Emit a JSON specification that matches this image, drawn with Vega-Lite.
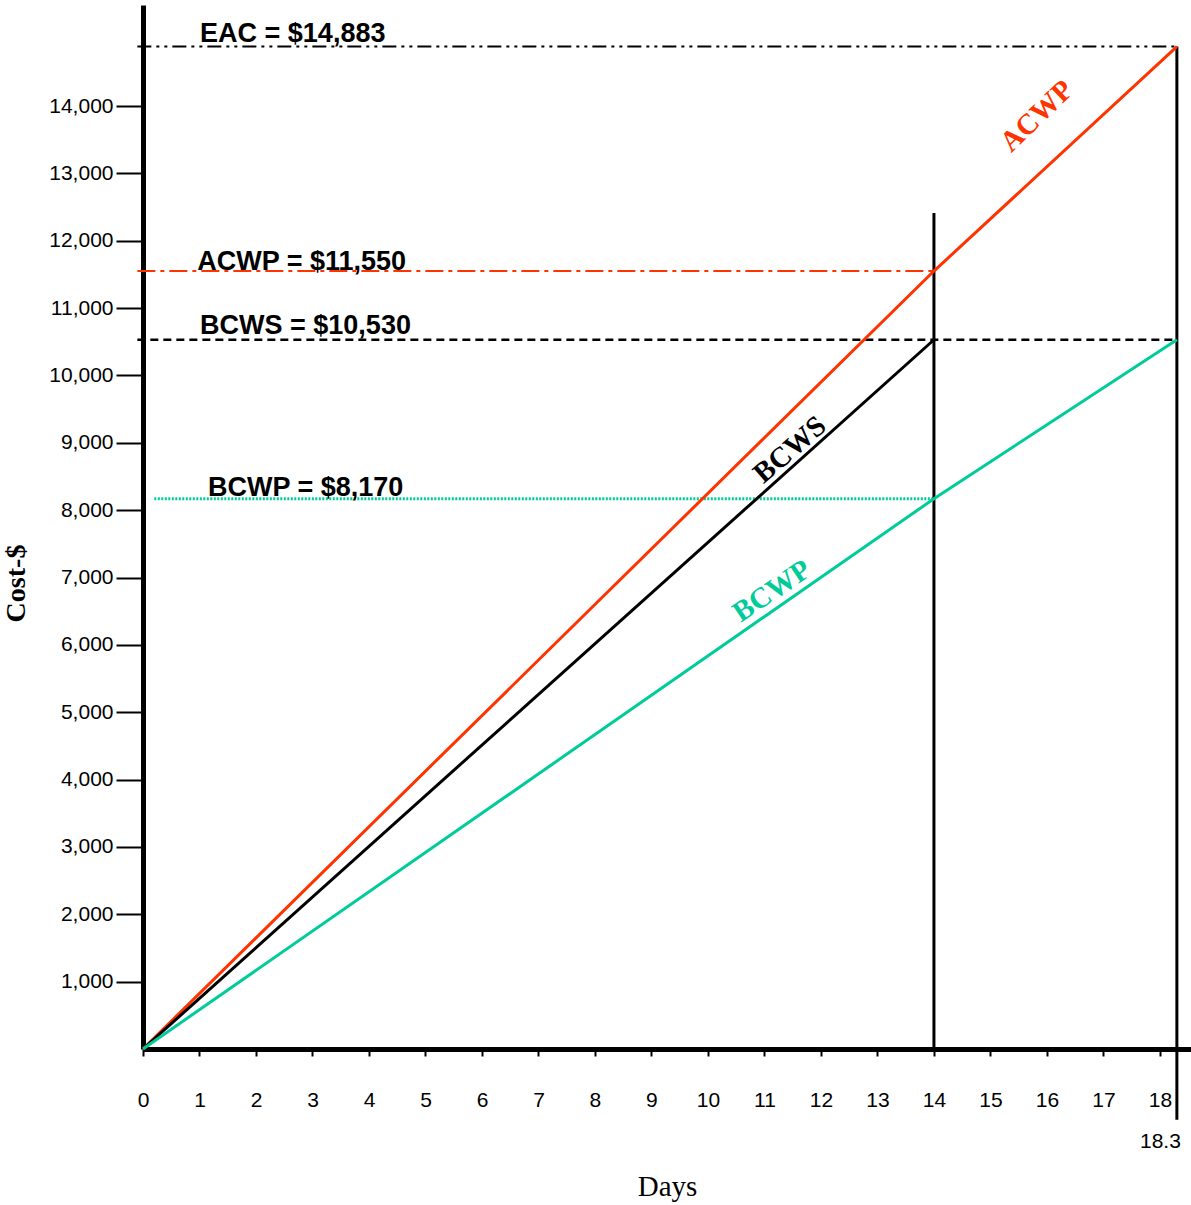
{
  "$schema": "https://vega.github.io/schema/vega-lite/v6.json",
  "width": 1048,
  "height": 1044,
  "autosize": {"type": "none"},
  "padding": {"left": 143, "top": 5, "right": 0, "bottom": 156},
  "background": "white",
  "config": {"view": {"stroke": null}, "font": "Liberation Sans"},
  "datasets": {
    "series": [
      {"series": "ACWP", "day": 0, "cost": 0},
      {"series": "ACWP", "day": 14, "cost": 11550},
      {"series": "ACWP", "day": 18.3, "cost": 14883},
      {"series": "BCWS", "day": 0, "cost": 0},
      {"series": "BCWS", "day": 14, "cost": 10530},
      {"series": "BCWP", "day": 0, "cost": 0},
      {"series": "BCWP", "day": 14, "cost": 8170},
      {"series": "BCWP", "day": 18.3, "cost": 10530}
    ],
    "refs": [
      {"name": "EAC", "day": -0.1, "day2": 18.3, "cost": 14883},
      {"name": "ACWP", "day": -0.1, "day2": 14, "cost": 11550},
      {"name": "BCWS", "day": -0.1, "day2": 18.3, "cost": 10530},
      {"name": "BCWP", "day": 0.2, "day2": 14, "cost": 8170}
    ],
    "verticals": [
      {"day": 14, "cost": 0, "cost2": 12413},
      {"day": 18.3, "cost": -1050, "cost2": 14883}
    ],
    "notes": [
      {"text": "EAC = $14,883", "day": 1.01, "cost": 14958},
      {"text": "ACWP = $11,550", "day": 0.96, "cost": 11560},
      {"text": "BCWS = $10,530", "day": 1.01, "cost": 10620},
      {"text": "BCWP = $8,170", "day": 1.15, "cost": 8215}
    ],
    "tags": [
      {"series": "ACWP", "day": 15.82, "cost": 13853},
      {"series": "BCWS", "day": 11.45, "cost": 8900},
      {"series": "BCWP", "day": 11.13, "cost": 6800}
    ],
    "extra": [
      {"text": "18.3", "day": 18.3, "cost": -1380}
    ]
  },
  "encoding": {
    "x": {
      "field": "day",
      "type": "quantitative",
      "scale": {"domain": [0, 18.55], "nice": false, "zero": false},
      "axis": {
        "values": [0, 1, 2, 3, 4, 5, 6, 7, 8, 9, 10, 11, 12, 13, 14, 15, 16, 17, 18],
        "grid": false,
        "labelFlush": false,
        "domainColor": "black",
        "domainWidth": 5,
        "tickColor": "black",
        "tickWidth": 2,
        "tickSize": 7,
        "labelPadding": 33,
        "labelFont": "Liberation Sans",
        "labelFontSize": 21,
        "labelColor": "black",
        "title": "Days",
        "titleFont": "Liberation Serif",
        "titleFontSize": 29,
        "titleFontWeight": "normal",
        "titleColor": "black",
        "titlePadding": 62
      }
    },
    "y": {
      "field": "cost",
      "type": "quantitative",
      "scale": {"domain": [0, 15500], "nice": false, "zero": false},
      "axis": {
        "values": [1000, 2000, 3000, 4000, 5000, 6000, 7000, 8000, 9000, 10000, 11000, 12000, 13000, 14000],
        "format": ",d",
        "grid": false,
        "domainColor": "black",
        "domainWidth": 5,
        "tickColor": "black",
        "tickWidth": 2,
        "tickSize": 27,
        "labelPadding": 3,
        "labelFont": "Liberation Sans",
        "labelFontSize": 21,
        "labelColor": "black",
        "title": "Cost-$",
        "titleFont": "Liberation Serif",
        "titleFontSize": 28,
        "titleFontWeight": "bold",
        "titleColor": "black",
        "titlePadding": 18,
        "titleY": 578
      }
    }
  },
  "layer": [
    {
      "data": {"name": "refs"},
      "transform": [{"filter": "datum.name === 'EAC'"}],
      "mark": {"type": "rule", "color": "black", "strokeWidth": 2, "strokeDash": [14, 5, 3, 5, 3, 5]},
      "encoding": {"x2": {"field": "day2"}}
    },
    {
      "data": {"name": "refs"},
      "transform": [{"filter": "datum.name === 'ACWP'"}],
      "mark": {"type": "rule", "color": "#ff3300", "strokeWidth": 2, "strokeDash": [18, 5, 4, 5]},
      "encoding": {"x2": {"field": "day2"}}
    },
    {
      "data": {"name": "refs"},
      "transform": [{"filter": "datum.name === 'BCWS'"}],
      "mark": {"type": "rule", "color": "black", "strokeWidth": 2.5, "strokeDash": [8, 5]},
      "encoding": {"x2": {"field": "day2"}}
    },
    {
      "data": {"name": "refs"},
      "transform": [{"filter": "datum.name === 'BCWP'"}],
      "mark": {"type": "rule", "color": "#00cc99", "strokeWidth": 3, "strokeDash": [2, 1.5]},
      "encoding": {"x2": {"field": "day2"}}
    },
    {
      "data": {"name": "verticals"},
      "mark": {"type": "rule", "color": "black", "strokeWidth": 3},
      "encoding": {"y2": {"field": "cost2"}}
    },
    {
      "data": {"name": "series"},
      "mark": {"type": "line", "strokeWidth": 3},
      "encoding": {
        "color": {
          "field": "series",
          "type": "nominal",
          "scale": {"domain": ["ACWP", "BCWS", "BCWP"], "range": ["#ff3300", "#000000", "#00cc99"]},
          "legend": null
        }
      }
    },
    {
      "data": {"name": "notes"},
      "mark": {"type": "text", "font": "Liberation Sans", "fontWeight": "bold", "fontSize": 27, "align": "left", "baseline": "alphabetic", "color": "black"},
      "encoding": {"text": {"field": "text"}}
    },
    {
      "data": {"name": "tags"},
      "transform": [{"filter": "datum.series === 'ACWP'"}],
      "mark": {"type": "text", "font": "Liberation Serif", "fontWeight": "bold", "fontSize": 29, "align": "center", "baseline": "middle", "angle": 316, "color": "#ff3300"},
      "encoding": {"text": {"field": "series"}}
    },
    {
      "data": {"name": "tags"},
      "transform": [{"filter": "datum.series === 'BCWS'"}],
      "mark": {"type": "text", "font": "Liberation Serif", "fontWeight": "bold", "fontSize": 29, "align": "center", "baseline": "middle", "angle": 319, "color": "black"},
      "encoding": {"text": {"field": "series"}}
    },
    {
      "data": {"name": "tags"},
      "transform": [{"filter": "datum.series === 'BCWP'"}],
      "mark": {"type": "text", "font": "Liberation Serif", "fontWeight": "bold", "fontSize": 29, "align": "center", "baseline": "middle", "angle": 326, "color": "#00cc99"},
      "encoding": {"text": {"field": "series"}}
    },
    {
      "data": {"name": "extra"},
      "mark": {"type": "text", "font": "Liberation Sans", "fontSize": 21, "align": "right", "dx": 4, "baseline": "middle", "color": "black"},
      "encoding": {"text": {"field": "text"}}
    }
  ]
}
